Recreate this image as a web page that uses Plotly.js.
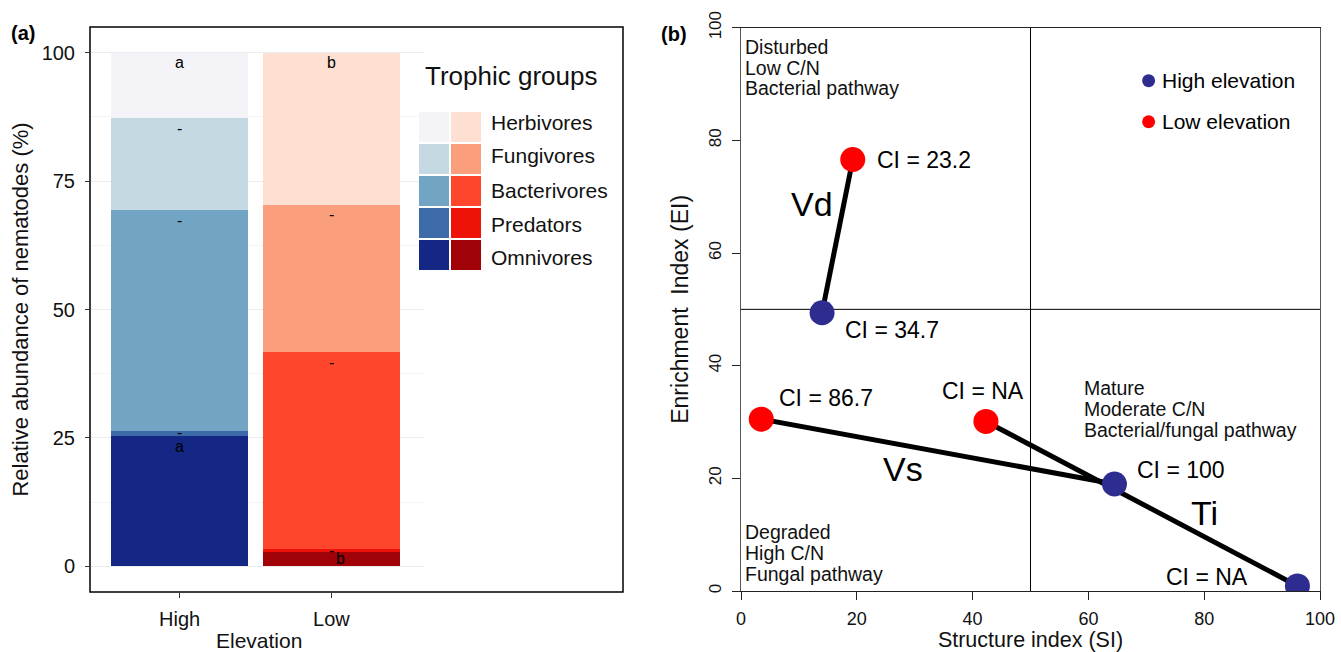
<!DOCTYPE html>
<html><head><meta charset="utf-8">
<script src="https://cdn.plot.ly/plotly-3.0.1.min.js"></script>
<style>html,body{margin:0;padding:0;background:#fff}#chart{width:1341px;height:652px}</style>
</head><body><div id="chart"></div>
<script>
// ---------- Panel (a) data ----------
const elevations = ['High', 'Low'];
const groups = ['Omnivores', 'Predators', 'Bacterivores', 'Fungivores', 'Herbivores'];
const highElev = [25.3, 1.1, 42.9, 17.9, 12.8];
const lowElev = [2.7, 0.7, 38.3, 28.7, 29.6];
const highLetters = ['a', '-', '-', '-', 'a'];
const lowLetters = ['b', '-', '-', '-', 'b'];
const highColors = ['#152784', '#3d6aa8', '#72a5c4', '#c4d9e1', '#f3f3f8'];
const lowColors = ['#a00207', '#ee1309', '#fe462d', '#fb9e7c', '#fde0d2'];
const legendTitle = 'Trophic groups';
const xTitleA = 'Elevation';

// ---------- Panel (b) data ----------
const sites = ['Vd', 'Vs', 'Ti'];
const siHigh = [14.0, 64.5, 96.1];
const eiHigh = [49.4, 19.0, 0.9];
const ciHigh = ['CI = 34.7', 'CI = 100', 'CI = NA'];
const siLow = [19.3, 3.5, 42.3];
const eiLow = [76.6, 30.5, 30.1];
const ciLow = ['CI = 23.2', 'CI = 86.7', 'CI = NA'];
const quadDisturbed = ['Disturbed', 'Low C/N', 'Bacterial pathway'];
const quadMature = ['Mature', 'Moderate C/N', 'Bacterial/fungal pathway'];
const quadDegraded = ['Degraded', 'High C/N', 'Fungal pathway'];
const seriesNames = ['High elevation', 'Low elevation'];
const seriesColors = ['#2e2d8f', '#ff0000'];

const W = 1341, H = 652;
const FONT = 'Liberation Sans, Arial, Helvetica, sans-serif';
const px = v => v / W;
const py = v => 1 - v / H;

const traces = [];
// stacked bars
groups.forEach((g, i) => {
  traces.push({
    type: 'bar', x: elevations, y: [highElev[i], lowElev[i]],
    marker: {color: [highColors[i], lowColors[i]], line: {width: 0}},
    width: 0.9, name: g, showlegend: false, hoverinfo: 'skip',
    xaxis: 'x', yaxis: 'y'
  });
});
// vector lines
sites.forEach((s, i) => {
  traces.push({
    type: 'scatter', mode: 'lines', x: [siLow[i], siHigh[i]], y: [eiLow[i], eiHigh[i]],
    line: {color: '#000', width: 5}, showlegend: false, hoverinfo: 'skip',
    xaxis: 'x2', yaxis: 'y2'
  });
});
traces.push({type: 'scatter', mode: 'markers', x: siHigh, y: eiHigh, name: seriesNames[0],
  marker: {color: seriesColors[0], size: 25}, showlegend: false, xaxis: 'x2', yaxis: 'y2'});
traces.push({type: 'scatter', mode: 'markers', x: siLow, y: eiLow, name: seriesNames[1],
  marker: {color: seriesColors[1], size: 25}, showlegend: false, xaxis: 'x2', yaxis: 'y2'});

const annotations = [];
const shapes = [];

// frame around panel (a)
shapes.push({type: 'rect', xref: 'paper', yref: 'paper', x0: px(90), x1: px(623), y0: py(592), y1: py(27),
  line: {color: '#000', width: 1.5}, fillcolor: 'rgba(0,0,0,0)', layer: 'above'});

// bar letters
function addLetters(vals, letters, cat) {
  let top = 0;
  vals.forEach((v, i) => {
    top += v;
    const small = v < 2;
    const ann = {xref: 'x', yref: 'y', x: cat, y: small ? top - 0.3 : top - 2,
      text: letters[i], showarrow: false, yanchor: 'middle', borderpad: 0,
      font: {family: FONT, size: 16, color: '#000'}};
    if (letters[i] !== '-' && v < 5) { ann.xshift = 9; ann.y = top - 1.2; }
    annotations.push(ann);
  });
}
addLetters(highElev, highLetters, elevations[0]);
addLetters(lowElev, lowLetters, elevations[1]);

// x title (a)
annotations.push({xref: 'paper', yref: 'paper', x: px(259), y: py(640), xanchor: 'center', yanchor: 'middle',
  text: xTitleA, showarrow: false, borderpad: 0, font: {family: FONT, size: 21, color: '#111'}});

// custom legend (a)
annotations.push({xref: 'paper', yref: 'paper', x: px(423), y: py(76), xanchor: 'left', yanchor: 'middle',
  text: legendTitle, showarrow: false, font: {family: FONT, size: 26, color: '#111'}});
const rowTops = [112, 144, 176, 208, 240];
const labelYs = [122, 156, 190.5, 224, 257];
for (let r = 0; r < 5; r++) {
  const gi = 4 - r;
  const t = rowTops[r];
  shapes.push({type: 'rect', xref: 'paper', yref: 'paper', x0: px(419), x1: px(449), y0: py(t), y1: py(t + 30),
    fillcolor: highColors[gi], line: {width: 0}});
  shapes.push({type: 'rect', xref: 'paper', yref: 'paper', x0: px(451), x1: px(481), y0: py(t), y1: py(t + 30),
    fillcolor: lowColors[gi], line: {width: 0}});
  annotations.push({xref: 'paper', yref: 'paper', x: px(489), y: py(labelYs[r]), xanchor: 'left', yanchor: 'middle',
    text: groups[gi], showarrow: false, font: {family: FONT, size: 21, color: '#111'}});
}

// panel labels
annotations.push({xref: 'paper', yref: 'paper', x: px(9), y: py(20), xanchor: 'left', text: '<b>(a)</b>', showarrow: false,
  font: {family: FONT, size: 20, color: '#000'}});
annotations.push({xref: 'paper', yref: 'paper', x: px(659), y: py(21), xanchor: 'left', text: '<b>(b)</b>', showarrow: false,
  font: {family: FONT, size: 20, color: '#000'}});

// quadrant lines
shapes.push({type: 'line', xref: 'x2', yref: 'y2', x0: 50, x1: 50, y0: 0, y1: 100, line: {color: '#000', width: 1}, layer: 'below'});
shapes.push({type: 'line', xref: 'x2', yref: 'y2', x0: 0, x1: 100, y0: 50, y1: 50, line: {color: '#000', width: 1}, layer: 'below'});

// quadrant texts
function addBlock(lines, x, y) {
  lines.forEach((t, k) => annotations.push({xref: 'x2', yref: 'y2', x: x, y: y, yshift: -20.7 * k,
    xanchor: 'left', yanchor: 'middle', text: t, showarrow: false, borderpad: 0,
    font: {family: FONT, size: 19.5, color: '#111'}}));
}
addBlock(quadDisturbed, 0.5, 96.6);
addBlock(quadMature, 59.1, 36.0);
addBlock(quadDegraded, 0.5, 10.4);

// CI labels
const ciHighOff = [[21, -17, 'left'], [20.5, 14, 'left'], [-47.5, 9, 'right']];
const ciLowOff = [[22.7, 0, 'left'], [16, 21, 'left'], [-46, 30, 'left']];
ciHigh.forEach((t, i) => annotations.push({xref: 'x2', yref: 'y2', x: siHigh[i], y: eiHigh[i],
  xshift: ciHighOff[i][0], yshift: ciHighOff[i][1], xanchor: ciHighOff[i][2], yanchor: 'middle',
  text: t, showarrow: false, font: {family: FONT, size: 23, color: '#000'}}));
ciLow.forEach((t, i) => annotations.push({xref: 'x2', yref: 'y2', x: siLow[i], y: eiLow[i],
  xshift: ciLowOff[i][0], yshift: ciLowOff[i][1], xanchor: ciLowOff[i][2], yanchor: 'middle',
  text: t, showarrow: false, font: {family: FONT, size: 23, color: '#000'}}));

// site labels at midpoints
const siteOff = [[-25, 32], [-34.5, -17.5], [63, -9]];
sites.forEach((s, i) => annotations.push({xref: 'x2', yref: 'y2',
  x: (siLow[i] + siHigh[i]) / 2, y: (eiLow[i] + eiHigh[i]) / 2,
  xshift: siteOff[i][0], yshift: siteOff[i][1], text: s, showarrow: false,
  font: {family: FONT, size: 34, color: '#000'}}));

// legend (b)
const legY = [90.6, 83.3];
seriesNames.forEach((n, i) => {
  shapes.push({type: 'circle', xref: 'x2', yref: 'y2', xsizemode: 'pixel', ysizemode: 'pixel',
    xanchor: 70.4, yanchor: legY[i], x0: -6.5, x1: 6.5, y0: -6.5, y1: 6.5,
    fillcolor: seriesColors[i], line: {width: 0}});
  annotations.push({xref: 'x2', yref: 'y2', x: 72.4, y: legY[i], xanchor: 'left', yanchor: 'middle',
    text: n, showarrow: false, font: {family: FONT, size: 21, color: '#000'}});
});

const layout = {
  width: W, height: H, margin: {l: 0, r: 0, t: 0, b: 0},
  paper_bgcolor: '#fff', plot_bgcolor: '#fff', barmode: 'stack', bargap: 0.1,
  font: {family: FONT, color: '#111'}, showlegend: false,
  xaxis: {domain: [px(90), px(424)], range: [-0.59, 1.61], type: 'category',
    showline: false, ticks: 'outside', ticklen: 5, tickcolor: '#333', showgrid: false, zeroline: false,
    ticklabelstandoff: 4, tickfont: {size: 20, color: '#111'}},
  yaxis: {domain: [1 - 592 / H, 1 - 27 / H], range: [-5, 105], tickvals: [0, 25, 50, 75, 100],
    showline: false, ticks: 'outside', ticklen: 4, tickcolor: '#333', ticklabelstandoff: 6,
    showgrid: true, gridcolor: '#ececec', gridwidth: 1, zeroline: false,
    minor: {dtick: 12.5, showgrid: true, gridcolor: '#f4f4f4', gridwidth: 1, ticks: ''},
    tickfont: {size: 20, color: '#111'},
    title: {text: 'Relative abundance of nematodes (%)', font: {size: 22, color: '#111'}, standoff: 6}},
  xaxis2: {domain: [px(741), px(1320)], range: [0, 100], tickvals: [0, 20, 40, 60, 80, 100],
    showline: true, mirror: true, linecolor: '#222', linewidth: 1,
    ticks: 'outside', ticklen: 8, tickcolor: '#222', ticklabelstandoff: 3,
    showgrid: false, zeroline: false, anchor: 'y2',
    tickfont: {size: 18, color: '#111'},
    title: {text: 'Structure index (SI)', font: {size: 21.5, color: '#111'}, standoff: 6}},
  yaxis2: {domain: [1 - 591 / H, 1 - 27.7 / H], range: [0, 100], tickvals: [0, 20, 40, 60, 80, 100],
    showline: true, mirror: true, linecolor: '#555', linewidth: 1,
    ticks: 'outside', ticklen: 8, tickcolor: '#222', tickangle: -90, ticklabelstandoff: 4,
    showgrid: false, zeroline: false, anchor: 'x2',
    tickfont: {size: 17, color: '#111'},
    title: {text: 'Enrichment\u00a0\u00a0Index (EI)', font: {size: 23, color: '#111'}, standoff: 11}},
  annotations: annotations, shapes: shapes
};

Plotly.newPlot('chart', traces, layout, {displayModeBar: false, staticPlot: true});
</script></body></html>
